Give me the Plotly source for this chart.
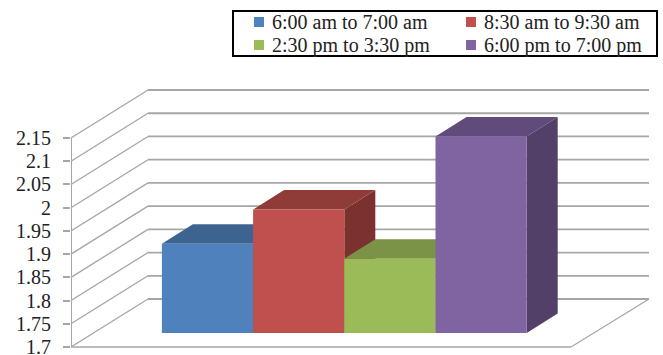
import plotly.graph_objects as go

# Mean values for each time slot
series_names = ["6:00 am to 7:00 am", "8:30 am to 9:30 am", "2:30 pm to 3:30 pm", "6:00 pm to 7:00 pm"]
series_values = [1.892, 1.966, 1.86, 2.123]
tick_values = [1.7, 1.75, 1.8, 1.85, 1.9, 1.95, 2.0, 2.05, 2.1, 2.15]
tick_labels = ["1.7", "1.75", "1.8", "1.85", "1.9", "1.95", "2", "2.05", "2.1", "2.15"]
front_colors = ["#4F81BD", "#C0504D", "#9BBB59", "#8064A2"]
top_colors = ["#3D6491", "#8F3B38", "#7A9346", "#614B7D"]
side_colors = ["#375A83", "#7B322F", "#6A803C", "#524069"]

AXIS_MIN = 1.7
PX_PER_UNIT = 464.4
PX_PER_SLOT = 91.2
WIDTH, HEIGHT = 663, 355
LEFT = 71
FLOOR_PX = 347
BAR_BASE_PX = 333
FIRST_BAR_PX = 207.5
GRID = "#A6A6A6"
FONT = "Liberation Serif"
INK = "#222222"

# Oblique offsets of the 3-D look, in axis units
WALL_DX, WALL_DY = 77 / PX_PER_SLOT, 48 / PX_PER_UNIT
BAR_DX, BAR_DY = 31 / PX_PER_SLOT, 19.5 / PX_PER_UNIT
FLOOR_RIGHT = (571 - FIRST_BAR_PX) / PX_PER_SLOT
AXIS_X = (LEFT - FIRST_BAR_PX) / PX_PER_SLOT
WALL_RIGHT = (649 - FIRST_BAR_PX) / PX_PER_SLOT


def poly(points):
    return "M " + " L ".join(f"{x:.4f} {y:.4f}" for x, y in points) + " Z"


def line(x0, y0, x1, y1, width=1.3):
    return dict(type="line", xref="x", yref="y", x0=x0, y0=y0, x1=x1, y1=y1,
                layer="below", line=dict(color=GRID, width=width))


def paper_x(px):
    return (px - LEFT) / (WIDTH - LEFT)


def paper_y(px):
    return 1 - px / HEIGHT


shapes = []
# Back wall and side wall rules
for v in tick_values:
    back_x = AXIS_X + WALL_DX
    shapes.append(line(AXIS_X, v, back_x, v + WALL_DY))
    shapes.append(line(back_x, v + WALL_DY, WALL_RIGHT, v + WALL_DY, 1.8))
# Floor outline and value axis
shapes.append(line(AXIS_X, AXIS_MIN, FLOOR_RIGHT, AXIS_MIN))
shapes.append(line(FLOOR_RIGHT, AXIS_MIN, WALL_RIGHT, AXIS_MIN + WALL_DY))
shapes.append(line(AXIS_X, AXIS_MIN, AXIS_X, tick_values[-1], 2))

# Top and side faces, left to right so nearer blocks cover earlier ones
for i, v in enumerate(series_values):
    x0, x1 = i - 0.5, i + 0.5
    shapes.append(dict(type="path", xref="x", yref="y2", layer="below", line=dict(width=0),
                       fillcolor=side_colors[i],
                       path=poly([(x1, AXIS_MIN), (x1 + BAR_DX, AXIS_MIN + BAR_DY),
                                  (x1 + BAR_DX, v + BAR_DY), (x1, v)])))
    shapes.append(dict(type="path", xref="x", yref="y2", layer="below", line=dict(width=0),
                       fillcolor=top_colors[i],
                       path=poly([(x0, v), (x1, v), (x1 + BAR_DX, v + BAR_DY),
                                  (x0 + BAR_DX, v + BAR_DY)])))

# Two-by-two key in a black frame
shapes.append(dict(type="rect", xref="paper", yref="paper", layer="above",
                   x0=paper_x(233), x1=paper_x(657), y0=paper_y(56), y1=paper_y(11),
                   line=dict(color="black", width=2), fillcolor="rgba(0,0,0,0)"))
annotations = []
key_columns = [254, 466]
key_rows = [22, 45]
for i, name in enumerate(series_names):
    sx = key_columns[i % 2]
    sy = key_rows[i // 2]
    shapes.append(dict(type="rect", xref="paper", yref="paper", layer="above",
                       x0=paper_x(sx), x1=paper_x(sx + 10), y0=paper_y(sy + 5), y1=paper_y(sy - 5),
                       line=dict(width=0), fillcolor=front_colors[i]))
    annotations.append(dict(xref="paper", yref="paper", x=paper_x(sx + 16), y=paper_y(sy),
                            xanchor="left", yanchor="middle", showarrow=False, text=name,
                            font=dict(family=FONT, size=20, color=INK)))

fig = go.Figure()
for i, (name, v) in enumerate(zip(series_names, series_values)):
    fig.add_trace(go.Bar(x=[i], y=[v - AXIS_MIN], base=AXIS_MIN, width=1, name=name,
                         yaxis="y2", showlegend=False,
                         marker=dict(color=front_colors[i], line=dict(width=0))))

fig.update_layout(
    width=WIDTH, height=HEIGHT,
    margin=dict(l=LEFT, r=0, t=0, b=0, autoexpand=False),
    paper_bgcolor="white", plot_bgcolor="white",
    font=dict(family=FONT, color=INK, size=18),
    barmode="overlay",
    shapes=shapes,
    annotations=annotations,
    showlegend=False,
    xaxis=dict(range=[(LEFT - FIRST_BAR_PX) / PX_PER_SLOT, (WIDTH - FIRST_BAR_PX) / PX_PER_SLOT],
               visible=False, fixedrange=True),
    yaxis=dict(range=[AXIS_MIN - (HEIGHT - FLOOR_PX) / PX_PER_UNIT, AXIS_MIN + FLOOR_PX / PX_PER_UNIT],
               tickmode="array", tickvals=tick_values, ticktext=tick_labels,
               ticks="outside", ticklen=7, tickcolor=GRID, tickwidth=1.5,
               ticklabelstandoff=8, ticklabeloverflow="allow", showgrid=False,
               zeroline=False, showline=False,
               tickfont=dict(family=FONT, size=20, color=INK)),
    yaxis2=dict(range=[AXIS_MIN - (HEIGHT - BAR_BASE_PX) / PX_PER_UNIT, AXIS_MIN + BAR_BASE_PX / PX_PER_UNIT],
                overlaying="y", visible=False, showgrid=False, zeroline=False),
)

fig.write_html("out.html", config=dict(displayModeBar=False))
